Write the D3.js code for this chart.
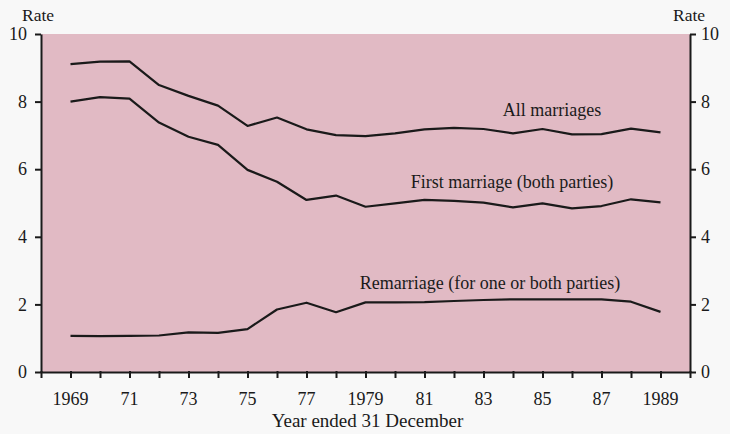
<!DOCTYPE html>
<html>
<head>
<meta charset="utf-8">
<script src="https://cdn.jsdelivr.net/npm/d3@7"></script>
<style>
  html, body { margin: 0; padding: 0; background: #f8f8f8; }
  svg { display: block; }
  text { font-family: "Liberation Serif", "Times New Roman", serif; fill: #1a1a1a; }
</style>
</head>
<body>
<svg id="chart" width="730" height="434"></svg>
<script>
const years = d3.range(1969, 1990);
const allMarriages = [9.11, 9.18, 9.19, 8.49, 8.17, 7.88, 7.28, 7.53, 7.18, 7.01, 6.98, 7.06, 7.18, 7.22, 7.19, 7.06, 7.19, 7.03, 7.04, 7.2, 7.09];
const firstMarriage = [8.0, 8.13, 8.09, 7.38, 6.96, 6.72, 5.98, 5.63, 5.09, 5.22, 4.89, 4.99, 5.09, 5.06, 5.01, 4.87, 4.99, 4.84, 4.91, 5.11, 5.02];
const remarriage = [1.07, 1.06, 1.07, 1.08, 1.17, 1.16, 1.27, 1.85, 2.05, 1.77, 2.06, 2.06, 2.07, 2.1, 2.13, 2.15, 2.15, 2.15, 2.15, 2.08, 1.78];
const yTicks = [0, 2, 4, 6, 8, 10];
const xLabelYears = [1969, 1971, 1973, 1975, 1977, 1979, 1981, 1983, 1985, 1987, 1989];
const xLabels = ["1969", "71", "73", "75", "77", "1979", "81", "83", "85", "87", "1989"];
const seriesLabels = ["All marriages", "First marriage (both parties)", "Remarriage (for one or both parties)"];
const axisTitle = "Rate";
const xTitle = "Year ended 31 December";

const svg = d3.select("#chart");
const x = d3.scaleLinear().domain([1968, 1990]).range([41, 690]);
const y = d3.scaleLinear().domain([0, 10]).range([372, 34]);
const ink = "#1a1a1a";
const fs = 18;

// plot background
svg.append("rect")
  .attr("x", x(1968)).attr("y", y(10))
  .attr("width", x(1990) - x(1968)).attr("height", y(0) - y(10))
  .attr("fill", "#e1bac4");

// lines
const line = d3.line().x((d, i) => x(years[i])).y(d => y(d));
[allMarriages, firstMarriage, remarriage].forEach(s => {
  svg.append("path").datum(s)
    .attr("d", line)
    .attr("fill", "none")
    .attr("stroke", ink)
    .attr("stroke-width", 2.2)
    .attr("stroke-linejoin", "round");
});

// axes
const styleAxis = g => {
  g.select(".domain").attr("stroke", ink).attr("stroke-width", 2);
  g.selectAll(".tick line").attr("stroke", ink).attr("stroke-width", 2);
  g.selectAll(".tick text").attr("font-size", fs).attr("font-family", "Liberation Serif").attr("fill", ink);
};

svg.append("g").attr("transform", `translate(${x(1968)},0)`)
  .call(d3.axisLeft(y).tickValues(yTicks).tickSize(6).tickPadding(8).tickSizeOuter(0))
  .call(styleAxis);

svg.append("g").attr("transform", `translate(${x(1990)},0)`)
  .call(d3.axisRight(y).tickValues(yTicks).tickSize(6).tickPadding(5).tickSizeOuter(0))
  .call(styleAxis);

const xAxis = svg.append("g").attr("transform", `translate(0,${y(0)})`)
  .call(d3.axisBottom(x).tickValues(d3.range(1968, 1991)).tickSize(6).tickFormat("").tickSizeOuter(0))
  .call(styleAxis);
xAxis.selectAll(".tick line").attr("y1", -1);

// x tick labels
svg.append("g").selectAll("text").data(xLabelYears).join("text")
  .attr("x", d => x(d)).attr("y", y(0) + 33)
  .attr("text-anchor", "middle").attr("font-size", fs)
  .text((d, i) => xLabels[i]);

// titles
svg.append("text").attr("x", 22).attr("y", 21).attr("font-size", 17.5).text(axisTitle);
svg.append("text").attr("x", 673).attr("y", 21).attr("font-size", 17.5).text(axisTitle);
svg.append("text").attr("x", (x(1968) + x(1990)) / 2 + 2).attr("y", 427)
  .attr("text-anchor", "middle").attr("font-size", 19).text(xTitle);

// series labels
const labelPos = [[552, 116], [512, 188], [490, 289]];
seriesLabels.forEach((t, i) => {
  svg.append("text").attr("x", labelPos[i][0]).attr("y", labelPos[i][1])
    .attr("text-anchor", "middle").attr("font-size", fs).text(t);
});
</script>
</body>
</html>
